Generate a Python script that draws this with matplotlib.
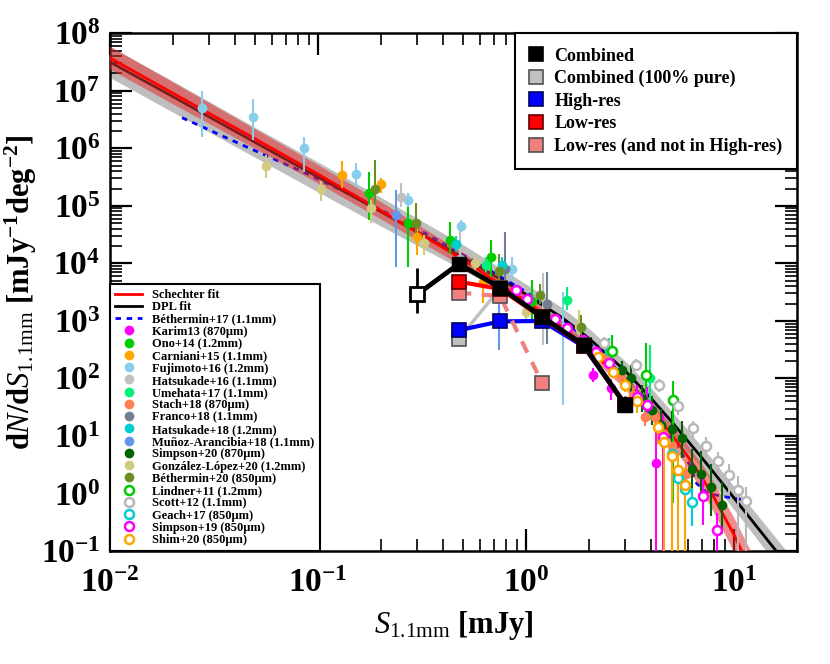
import numpy as np
import matplotlib
matplotlib.use('Agg')
from matplotlib import pyplot as plt
from matplotlib.lines import Line2D
from matplotlib.ticker import LogLocator, NullFormatter

plt.rcParams['font.family'] = 'Liberation Serif'
plt.rcParams['font.weight'] = 'bold'
plt.rcParams['axes.labelweight'] = 'bold'
plt.rcParams['mathtext.fontset'] = 'custom'
plt.rcParams['mathtext.rm'] = 'Liberation Serif:bold'
plt.rcParams['mathtext.it'] = 'Liberation Serif:italic:regular'
plt.rcParams['mathtext.bf'] = 'Liberation Serif:bold'
plt.rcParams['mathtext.sf'] = 'Liberation Serif:regular'

# fit curves (log10 dN/dS) and their band half-widths (dex)
fit_S = [0.01, 0.02, 0.05, 0.1, 0.2, 0.5, 1, 1.5, 2, 3, 4, 5, 6, 7, 8, 10, 12, 15, 20]
dpl_logN = [7.50, 6.90, 6.10, 5.50, 4.90, 4.10, 3.46, 3.05, 2.70, 2.13, 1.65, 1.25,
            0.91, 0.62, 0.36, -0.08, -0.44, -0.88, -1.45]
sch_logN = [7.57, 6.96, 6.16, 5.55, 4.92, 4.06, 3.34, 2.88, 2.51, 1.93, 1.45, 1.03,
            0.64, 0.28, -0.07, -0.72, -1.33, -2.21, -3.6]
dpl_band = [0.27, 0.27, 0.26, 0.26, 0.25, 0.22, 0.18, 0.17, 0.17, 0.17, 0.18, 0.18,
            0.19, 0.19, 0.20, 0.20, 0.21, 0.22, 0.23]
sch_band = [0.20, 0.19, 0.17, 0.16, 0.15, 0.12, 0.10, 0.10, 0.10, 0.12, 0.14, 0.17,
            0.20, 0.23, 0.26, 0.30, 0.34, 0.40, 0.50]

# Bethermin+17 model
beth17_S = [0.0222, 0.045, 0.0845, 0.15, 0.3, 0.6, 1.0, 1.6, 2.5, 4.0, 5.0, 6.1, 6.6,
            7.5, 9.2, 10.6, 12.2]
beth17_N = [3.4e6, 1.07e6, 3.9e5, 1.45e5, 4.0e4, 9.5e3, 3.2e3, 890, 200, 32, 9, 3.2,
            1.5, 1.0, 0.87, 0.8, 0.66]

# this work
comb_S = [0.3, 0.475, 0.75, 1.19, 1.89, 3.0]
comb_N = [2.9e3, 9.8e3, 3.8e3, 1.19e3, 380, 35]
comb_lo = [0.32, 0.08, 0.06, 0.05, 0.05, 0.12]
comb_hi = [0.46, 0.08, 0.06, 0.05, 0.05, 0.15]
pure_S = [0.475, 0.75, 1.19, 1.89, 3.0]
pure_N = [490, 3.7e3, 1.17e3, 375, 35]
high_S = [0.475, 0.75, 1.19, 1.89, 3.0]
high_N = [690, 980, 1.0e3, 360, 34]
low_S = [0.475, 0.75, 1.19, 1.89, 3.0]
low_N = [4.8e3, 3.6e3, 1.15e3, 370, 34]
lowonly_S = [0.475, 0.75, 1.19]
lowonly_N = [3.1e3, 2.7e3, 85]

# literature (S, N, lower err dex, upper err dex)
karim_S = [2.09, 2.56, 4.23]
karim_N = [115, 68, 3.4]
karim_lo = [0.12, 0.2, 2.0]
karim_hi = [0.12, 0.15, 0.65]
ono_S = [0.176, 0.272, 0.432, 0.675, 1.07]
ono_N = [1.66e5, 5.1e4, 2.6e4, 1.3e4, 2.2e3]
ono_lo = [0.46, 0.77, 0.26, 0.35, 0.37]
ono_hi = [0.37, 0.52, 0.31, 0.30, 0.37]
carn_S = [0.130, 0.200, 0.298, 0.62]
carn_N = [3.4e5, 2.4e5, 2.9e4, 4.8e3]
carn_lo = [0.22, 0.15, 0.31, 0.37]
carn_hi = [0.24, 0.11, 0.21, 0.09]
fuji_S = [0.0277, 0.0486, 0.0853, 0.152, 0.272, 0.484, 0.86, 1.5]
fuji_N = [5.0e6, 3.5e6, 1.0e6, 3.6e5, 1.27e5, 4.5e4, 8e3, 700]
fuji_lo = [0.5, 0.4, 0.42, 0.23, 0.12, 0.1, 0.2, 1.3]
fuji_hi = [0.3, 0.31, 0.19, 0.19, 0.12, 0.1, 0.2, 0.65]
hat16_S = [0.251, 0.48, 1.2]
hat16_N = [1.45e5, 1.2e4, 1.2e3]
hat16_lo = [0.18, 0.2, 0.5]
hat16_hi = [0.24, 0.5, 0.76]
ume_S = [0.643, 1.58, 3.95]
ume_N = [9.3e3, 2.3e3, 100]
ume_lo = [0.12, 0.18, 0.72]
ume_hi = [0.15, 0.22, 0.58]
stach_S = [2.42, 2.86, 3.28, 3.71, 4.17, 4.61, 5.02, 5.9]
stach_N = [240, 115, 51, 21, 21, 11, 6.8, 2.2]
stach_lo = [0.1, 0.1, 0.12, 0.15, 0.15, 0.18, 0.2, 0.25]
stach_hi = [0.1, 0.1, 0.12, 0.15, 0.15, 0.18, 0.2, 0.25]
franco_S = [0.796, 1.26]
franco_N = [8e3, 2.0e3]
franco_lo = [0.49, 0.71]
franco_hi = [0.64, 0.55]
hat18_S = [0.46, 0.77, 2.51]
hat18_N = [2.2e4, 9.3e3, 300]
hat18_lo = [0.14, 0.15, 0.3]
hat18_hi = [0.13, 0.15, 0.22]
munoz_S = [0.236, 0.74]
munoz_N = [6.8e4, 1.0e3]
munoz_lo = [0.89, 0.5]
munoz_hi = [0.45, 0.42]
simp20_S = [2.89, 3.2, 3.6, 4.03, 4.45, 5.0, 5.6, 6.27, 6.9, 7.7, 8.7]
simp20_N = [142, 103, 46, 28, 15.5, 13.5, 9.2, 2.65, 2.2, 1.28, 0.63]
simp20_lo = [0.15, 0.25, 0.25, 0.25, 0.3, 0.35, 0.35, 0.4, 0.45, 0.5, 0.5]
simp20_hi = [0.15, 0.22, 0.22, 0.25, 0.28, 0.3, 0.3, 0.35, 0.4, 0.4, 0.4]
gonz_S = [0.0565, 0.103, 0.179, 0.324, 0.565, 1.0, 1.8]
gonz_N = [5.0e5, 1.95e5, 9.1e4, 2.24e4, 1.0e4, 1.45e3, 790]
gonz_lo = [0.22, 0.2, 0.25, 0.2, 0.2, 0.15, 0.12]
gonz_hi = [0.18, 0.15, 0.15, 0.15, 0.15, 0.15, 0.3]
beth20_S = [0.187, 0.297, 0.74, 1.17, 1.84]
beth20_N = [2.0e5, 5.0e4, 7.3e3, 2.8e3, 800]
beth20_lo = [0.32, 0.2, 0.15, 0.15, 0.15]
beth20_hi = [0.5, 0.35, 0.3, 0.2, 0.2]
lind_S = [2.59, 3.79, 5.06]
lind_N = [300, 115, 43]
lind_lo = [0.26, 0.73, 1.8]
lind_hi = [0.28, 0.56, 0.33]
scott_S = [2.38, 3.37, 4.34, 5.36, 6.37, 7.33, 8.32, 9.4, 10.4, 11.4]
scott_N = [410, 170, 78, 33, 14, 6.7, 3.7, 2.1, 1.15, 0.74]
scott_lo = [0.1, 0.1, 0.12, 0.15, 0.18, 0.2, 0.25, 0.35, 2, 2]
scott_hi = [0.1, 0.1, 0.1, 0.12, 0.12, 0.15, 0.15, 0.2, 0.25, 0.25]
geach_S = [5.0, 5.4, 5.8, 6.3]
geach_N = [4.9, 1.9, 1.2, 0.7]
geach_lo = [0.3, 0.35, 0.35, 0.4]
geach_hi = [0.2, 0.2, 0.2, 0.25]
simp19_S = [0.89, 1.01, 1.38, 1.58, 1.87, 2.17, 2.51, 3.4, 3.81, 4.53, 7.1, 8.25]
simp19_N = [3.4e3, 2.4e3, 1.1e3, 740, 460, 294, 183, 48, 35, 9.7, 0.9, 0.23]
simp19_lo = [0.05, 0.05, 0.06, 0.07, 0.08, 0.1, 0.1, 0.2, 0.3, 2, 0.5, 0.6]
simp19_hi = [0.05, 0.05, 0.06, 0.07, 0.08, 0.1, 0.1, 0.2, 0.3, 0.4, 0.4, 0.3]
shim_S = [2.21, 2.61, 3.0, 3.43, 4.29, 4.61, 5.02, 5.38, 5.82]
shim_N = [240, 132, 78, 40, 14.5, 7.9, 4.5, 2.6, 1.4]
shim_lo = [0.1, 0.1, 0.12, 0.2, 0.3, 2, 2, 2, 2]
shim_hi = [0.1, 0.1, 0.12, 0.15, 0.2, 0.25, 0.25, 0.3, 0.3]

lit = [
    ('Karim13 (870μm)', karim_S, karim_N, karim_lo, karim_hi, 'magenta', True),
    ('Ono+14 (1.2mm)', ono_S, ono_N, ono_lo, ono_hi, '#00cc00', True),
    ('Carniani+15 (1.1mm)', carn_S, carn_N, carn_lo, carn_hi, 'orange', True),
    ('Fujimoto+16 (1.2mm)', fuji_S, fuji_N, fuji_lo, fuji_hi, 'skyblue', True),
    ('Hatsukade+16 (1.1mm)', hat16_S, hat16_N, hat16_lo, hat16_hi, 'silver', True),
    ('Umehata+17 (1.1mm)', ume_S, ume_N, ume_lo, ume_hi, '#00f07a', True),
    ('Stach+18 (870μm)', stach_S, stach_N, stach_lo, stach_hi, 'coral', True),
    ('Franco+18 (1.1mm)', franco_S, franco_N, franco_lo, franco_hi, 'slategray', True),
    ('Hatsukade+18 (1.2mm)', hat18_S, hat18_N, hat18_lo, hat18_hi, 'darkturquoise', True),
    ('Muñoz-Arancibia+18 (1.1mm)', munoz_S, munoz_N, munoz_lo, munoz_hi, 'cornflowerblue', True),
    ('Simpson+20 (870μm)', simp20_S, simp20_N, simp20_lo, simp20_hi, 'darkgreen', True),
    ('González-López+20 (1.2mm)', gonz_S, gonz_N, gonz_lo, gonz_hi, '#d0cb80', True),
    ('Béthermin+20 (850μm)', beth20_S, beth20_N, beth20_lo, beth20_hi, 'olivedrab', True),
    ('Lindner+11 (1.2mm)', lind_S, lind_N, lind_lo, lind_hi, '#00cc00', False),
    ('Scott+12 (1.1mm)', scott_S, scott_N, scott_lo, scott_hi, '#b8b8b8', False),
    ('Geach+17 (850μm)', geach_S, geach_N, geach_lo, geach_hi, 'darkturquoise', False),
    ('Simpson+19 (850μm)', simp19_S, simp19_N, simp19_lo, simp19_hi, 'magenta', False),
    ('Shim+20 (850μm)', shim_S, shim_N, shim_lo, shim_hi, 'orange', False),
]

fig = plt.figure(figsize=(8.3, 6.64), dpi=100)
ax = fig.add_axes([0.1325, 0.170, 0.8275, 0.780])

S = np.array(fit_S)
dpl = 10**np.array(dpl_logN)
sch = 10**np.array(sch_logN)
gw = 10**np.array(dpl_band)
rw = 10**np.array(sch_band)
ax.fill_between(S, dpl/gw, dpl*gw, color='#bebebe', lw=0, zorder=1)
ax.plot(beth17_S, beth17_N, color='blue', lw=2, ls=(0, (2, 2)), zorder=2)
ax.plot(S, dpl, color='black', lw=2, zorder=3)
ax.fill_between(S, sch/rw, sch*rw, color='#e83030', alpha=0.55, lw=0, zorder=4)
ax.plot(S, sch, color='red', lw=2, zorder=5)

handles = [Line2D([], [], color='red', lw=2),
           Line2D([], [], color='black', lw=2),
           Line2D([], [], color='blue', lw=2, ls=(0, (2, 2)))]
labels = ['Schechter fit', 'DPL fit', 'Béthermin+17 (1.1mm)']

for name, xs, ys, lo, hi, c, filled in lit:
    xs = np.array(xs)
    ys = np.array(ys)
    yerr = [ys - ys/10**np.array(lo), ys*10**np.array(hi) - ys]
    if filled:
        kw = dict(mfc=c, mec=c, mew=0, ms=7)
    else:
        kw = dict(mfc='white', mec=c, mew=1.8, ms=6.5)
    ax.errorbar(xs, ys, yerr=yerr, fmt='o', ecolor=c, elinewidth=1.5, capsize=0,
                zorder=6, **kw)
    handles.append(Line2D([], [], ls='none', marker='o', **kw))
    labels.append(name)

# this work
ax.plot(pure_S[:2], pure_N[:2], color='#c0c0c0', lw=2.5, zorder=7)
ax.plot(pure_S, pure_N, ls='none', marker='s', ms=9.5, mfc='#c0c0c0', mec='#505050',
        mew=1.2, zorder=7)
ax.plot(high_S, high_N, color='blue', lw=3, marker='s', ms=9.5, mfc='blue',
        mec='#000060', mew=1.2, zorder=8)
ax.plot(lowonly_S, lowonly_N, color='#f08080', lw=3, ls=(0, (3, 2.5)), marker='s',
        ms=9.5, mfc='#f08080', mec='#505050', mew=1.2, zorder=8)
ax.plot(low_S, low_N, color='red', lw=3, marker='s', ms=9.5, mfc='red',
        mec='#600000', mew=1.2, zorder=9)
cs = np.array(comb_S)
cn = np.array(comb_N)
cerr = [cn - cn/10**np.array(comb_lo), cn*10**np.array(comb_hi) - cn]
ax.errorbar(cs, cn, yerr=cerr, fmt='none', ecolor='black', elinewidth=2, capsize=0,
            zorder=10)
ax.plot(cs, cn, color='black', lw=3.5, zorder=10)
ax.plot(cs[1:], cn[1:], ls='none', marker='s', ms=10, mfc='black', mec='black',
        zorder=11)
ax.plot(cs[:1], cn[:1], ls='none', marker='s', ms=10, mfc='white', mec='black',
        mew=2, zorder=11)

ax.set_xscale('log')
ax.set_yscale('log')
ax.set_xlim(0.01, 20)
ax.set_ylim(0.1, 1e8)
ax.yaxis.set_major_locator(LogLocator(base=10, numticks=20))
ax.yaxis.set_minor_locator(LogLocator(base=10, subs=np.arange(2, 10), numticks=20))
ax.yaxis.set_minor_formatter(NullFormatter())
ax.xaxis.set_minor_formatter(NullFormatter())
ax.tick_params(which='major', direction='in', length=16, width=1.6, top=True,
               right=True, labelsize=24, pad=7)
ax.tick_params(axis='x', which='major', pad=12)
ax.tick_params(which='minor', direction='in', length=8.5, width=1.2, top=True,
               right=True)
for sp in ax.spines.values():
    sp.set_linewidth(1.8)

ax.set_xlabel(r'$S_{\mathsf{1.1mm}}$ [mJy]', fontsize=22, labelpad=7)
ax.set_ylabel(r'd$N$/d$S_{\mathsf{1.1mm}}$ [mJy$^{-1}$deg$^{-2}$]', fontsize=22,
              labelpad=1)

leg1 = ax.legend(handles, labels, loc='lower left', fontsize=9, labelspacing=0.02,
                 handlelength=2.2, handletextpad=0.8, borderaxespad=0, borderpad=0.4,
                 fancybox=False, framealpha=1, edgecolor='black')
leg1.get_frame().set_linewidth(1.5)
leg1.set_zorder(20)
ax.add_artist(leg1)

sq = dict(ls='none', marker='s', ms=10, mew=1.2)
h2 = [Line2D([], [], mfc='black', mec='black', **sq),
      Line2D([], [], mfc='#c0c0c0', mec='#505050', **sq),
      Line2D([], [], mfc='blue', mec='#000060', **sq),
      Line2D([], [], mfc='red', mec='#600000', **sq),
      Line2D([], [], mfc='#f08080', mec='#505050', **sq)]
l2 = ['Combined', 'Combined (100% pure)', 'High-res', 'Low-res',
      'Low-res (and not in High-res)']
leg2 = ax.legend(h2, l2, loc='upper right', fontsize=13, labelspacing=0.3,
                 handlelength=0.8, handletextpad=0.6, borderaxespad=0, borderpad=0.8,
                 fancybox=False, framealpha=1, edgecolor='black')
leg2.get_frame().set_linewidth(1.5)
leg2.set_zorder(20)

fig.savefig('out.png', dpi=100)
